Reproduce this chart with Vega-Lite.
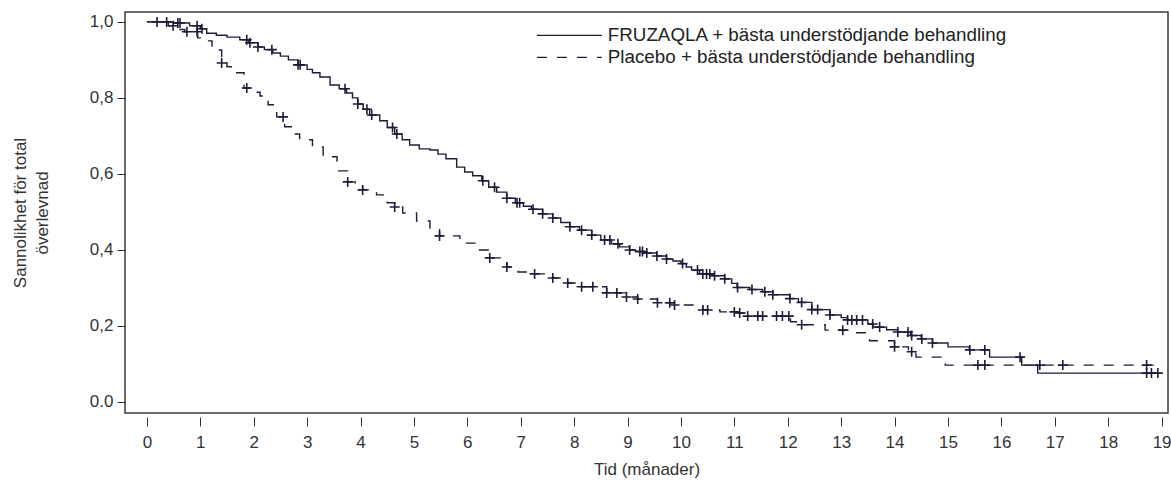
{
  "$schema": "https://vega.github.io/schema/vega-lite/v6.json",
  "width": 1043,
  "height": 401,
  "autosize": {"type": "none"},
  "padding": {"left": 125, "top": 12, "right": 3, "bottom": 69},
  "background": "white",
  "config": {
    "view": {"stroke": "#3a3a3a", "strokeWidth": 1.5},
    "font": "Liberation Sans",
    "axis": {
      "labelFont": "Liberation Sans",
      "titleFont": "Liberation Sans",
      "labelColor": "#333333",
      "titleColor": "#333333",
      "tickColor": "#333333",
      "grid": false,
      "domain": false,
      "labelFontSize": 17,
      "titleFontSize": 17,
      "titleFontWeight": "normal"
    },
    "legend": {
      "orient": "none",
      "legendX": 435,
      "legendY": 14,
      "symbolType": "M-5,0H5",
      "symbolSize": 169,
      "symbolStrokeWidth": 1.3,
      "labelFont": "Liberation Sans",
      "labelFontSize": 18.8,
      "labelColor": "#222222",
      "labelOffset": 29,
      "rowPadding": 2,
      "padding": 0,
      "labelLimit": 0
    }
  },
  "datasets": {
    "curves": [
      {"a":"F","t":0,"S":1.0},{"a":"F","t":0.5,"S":0.997},{"a":"F","t":0.8,"S":0.99},{"a":"F","t":1.0,"S":0.982},{"a":"F","t":1.12,"S":0.97},{"a":"F","t":1.3,"S":0.965},{"a":"F","t":1.5,"S":0.96},{"a":"F","t":1.74,"S":0.953},{"a":"F","t":1.9,"S":0.945},{"a":"F","t":2.08,"S":0.934},{"a":"F","t":2.2,"S":0.927},{"a":"F","t":2.36,"S":0.918},{"a":"F","t":2.5,"S":0.91},{"a":"F","t":2.65,"S":0.9},{"a":"F","t":2.83,"S":0.887},{"a":"F","t":3.0,"S":0.875},{"a":"F","t":3.1,"S":0.866},{"a":"F","t":3.24,"S":0.855},{"a":"F","t":3.43,"S":0.834},{"a":"F","t":3.6,"S":0.824},{"a":"F","t":3.74,"S":0.813},{"a":"F","t":3.85,"S":0.8},{"a":"F","t":3.95,"S":0.784},{"a":"F","t":4.05,"S":0.77},{"a":"F","t":4.17,"S":0.755},{"a":"F","t":4.36,"S":0.74},{"a":"F","t":4.5,"S":0.722},{"a":"F","t":4.64,"S":0.705},{"a":"F","t":4.78,"S":0.69},{"a":"F","t":4.92,"S":0.676},{"a":"F","t":5.1,"S":0.666},{"a":"F","t":5.3,"S":0.663},{"a":"F","t":5.45,"S":0.652},{"a":"F","t":5.6,"S":0.64},{"a":"F","t":5.8,"S":0.618},{"a":"F","t":5.95,"S":0.605},{"a":"F","t":6.1,"S":0.595},{"a":"F","t":6.27,"S":0.582},{"a":"F","t":6.4,"S":0.565},{"a":"F","t":6.55,"S":0.552},{"a":"F","t":6.74,"S":0.536},{"a":"F","t":6.9,"S":0.524},{"a":"F","t":7.05,"S":0.515},{"a":"F","t":7.2,"S":0.507},{"a":"F","t":7.41,"S":0.495},{"a":"F","t":7.6,"S":0.484},{"a":"F","t":7.75,"S":0.472},{"a":"F","t":7.92,"S":0.461},{"a":"F","t":8.1,"S":0.452},{"a":"F","t":8.33,"S":0.439},{"a":"F","t":8.5,"S":0.426},{"a":"F","t":8.7,"S":0.416},{"a":"F","t":8.85,"S":0.408},{"a":"F","t":9.04,"S":0.4},{"a":"F","t":9.15,"S":0.396},{"a":"F","t":9.3,"S":0.392},{"a":"F","t":9.55,"S":0.384},{"a":"F","t":9.73,"S":0.376},{"a":"F","t":9.85,"S":0.371},{"a":"F","t":10.0,"S":0.364},{"a":"F","t":10.1,"S":0.355},{"a":"F","t":10.2,"S":0.347},{"a":"F","t":10.35,"S":0.337},{"a":"F","t":10.6,"S":0.332},{"a":"F","t":10.82,"S":0.324},{"a":"F","t":10.95,"S":0.312},{"a":"F","t":11.05,"S":0.301},{"a":"F","t":11.29,"S":0.296},{"a":"F","t":11.53,"S":0.29},{"a":"F","t":11.72,"S":0.282},{"a":"F","t":12.04,"S":0.272},{"a":"F","t":12.2,"S":0.262},{"a":"F","t":12.45,"S":0.243},{"a":"F","t":12.79,"S":0.229},{"a":"F","t":13.0,"S":0.222},{"a":"F","t":13.12,"S":0.216},{"a":"F","t":13.5,"S":0.205},{"a":"F","t":13.6,"S":0.197},{"a":"F","t":13.85,"S":0.19},{"a":"F","t":14.06,"S":0.184},{"a":"F","t":14.3,"S":0.175},{"a":"F","t":14.5,"S":0.166},{"a":"F","t":14.71,"S":0.155},{"a":"F","t":15.0,"S":0.145},{"a":"F","t":15.4,"S":0.137},{"a":"F","t":15.78,"S":0.118},{"a":"F","t":16.38,"S":0.097},{"a":"F","t":16.68,"S":0.076},{"a":"F","t":18.93,"S":0.076},
      {"a":"P","t":0,"S":1.0},{"a":"P","t":0.4,"S":0.99},{"a":"P","t":0.55,"S":0.98},{"a":"P","t":0.71,"S":0.974},{"a":"P","t":0.95,"S":0.958},{"a":"P","t":1.05,"S":0.95},{"a":"P","t":1.22,"S":0.932},{"a":"P","t":1.3,"S":0.926},{"a":"P","t":1.4,"S":0.892},{"a":"P","t":1.5,"S":0.882},{"a":"P","t":1.62,"S":0.866},{"a":"P","t":1.82,"S":0.826},{"a":"P","t":2.0,"S":0.815},{"a":"P","t":2.12,"S":0.805},{"a":"P","t":2.27,"S":0.782},{"a":"P","t":2.43,"S":0.75},{"a":"P","t":2.58,"S":0.724},{"a":"P","t":2.75,"S":0.705},{"a":"P","t":2.86,"S":0.69},{"a":"P","t":3.1,"S":0.671},{"a":"P","t":3.3,"S":0.645},{"a":"P","t":3.56,"S":0.608},{"a":"P","t":3.76,"S":0.579},{"a":"P","t":3.9,"S":0.572},{"a":"P","t":4.04,"S":0.558},{"a":"P","t":4.3,"S":0.545},{"a":"P","t":4.5,"S":0.524},{"a":"P","t":4.64,"S":0.513},{"a":"P","t":4.79,"S":0.497},{"a":"P","t":5.05,"S":0.476},{"a":"P","t":5.3,"S":0.453},{"a":"P","t":5.48,"S":0.437},{"a":"P","t":5.86,"S":0.418},{"a":"P","t":6.18,"S":0.4},{"a":"P","t":6.42,"S":0.379},{"a":"P","t":6.74,"S":0.355},{"a":"P","t":6.95,"S":0.342},{"a":"P","t":7.26,"S":0.337},{"a":"P","t":7.6,"S":0.326},{"a":"P","t":7.88,"S":0.313},{"a":"P","t":8.14,"S":0.303},{"a":"P","t":8.61,"S":0.287},{"a":"P","t":8.98,"S":0.276},{"a":"P","t":9.19,"S":0.271},{"a":"P","t":9.56,"S":0.261},{"a":"P","t":9.88,"S":0.255},{"a":"P","t":10.41,"S":0.242},{"a":"P","t":10.73,"S":0.237},{"a":"P","t":11.06,"S":0.234},{"a":"P","t":11.2,"S":0.226},{"a":"P","t":12.05,"S":0.211},{"a":"P","t":12.21,"S":0.203},{"a":"P","t":12.7,"S":0.189},{"a":"P","t":13.2,"S":0.182},{"a":"P","t":13.48,"S":0.171},{"a":"P","t":13.53,"S":0.161},{"a":"P","t":14.0,"S":0.145},{"a":"P","t":14.26,"S":0.132},{"a":"P","t":14.4,"S":0.118},{"a":"P","t":14.95,"S":0.097},{"a":"P","t":18.93,"S":0.097}
    ],
    "censors": [
      {"a":"F","t":0.19,"S":1.0},{"a":"F","t":0.37,"S":1.0},{"a":"F","t":0.58,"S":0.997},{"a":"F","t":0.62,"S":0.997},{"a":"F","t":0.94,"S":0.99},{"a":"F","t":1.03,"S":0.982},{"a":"F","t":1.87,"S":0.953},{"a":"F","t":1.93,"S":0.945},{"a":"F","t":2.08,"S":0.934},{"a":"F","t":2.34,"S":0.927},{"a":"F","t":2.83,"S":0.887},{"a":"F","t":2.87,"S":0.887},{"a":"F","t":3.71,"S":0.824},{"a":"F","t":3.95,"S":0.784},{"a":"F","t":4.12,"S":0.77},{"a":"F","t":4.21,"S":0.755},{"a":"F","t":4.6,"S":0.722},{"a":"F","t":4.68,"S":0.705},{"a":"F","t":6.29,"S":0.582},{"a":"F","t":6.51,"S":0.565},{"a":"F","t":6.74,"S":0.536},{"a":"F","t":6.93,"S":0.524},{"a":"F","t":6.98,"S":0.524},{"a":"F","t":7.23,"S":0.507},{"a":"F","t":7.41,"S":0.495},{"a":"F","t":7.6,"S":0.484},{"a":"F","t":7.92,"S":0.461},{"a":"F","t":8.14,"S":0.452},{"a":"F","t":8.33,"S":0.439},{"a":"F","t":8.57,"S":0.426},{"a":"F","t":8.67,"S":0.426},{"a":"F","t":8.82,"S":0.416},{"a":"F","t":9.04,"S":0.4},{"a":"F","t":9.23,"S":0.396},{"a":"F","t":9.28,"S":0.396},{"a":"F","t":9.36,"S":0.392},{"a":"F","t":9.55,"S":0.384},{"a":"F","t":9.73,"S":0.376},{"a":"F","t":10.03,"S":0.364},{"a":"F","t":10.31,"S":0.347},{"a":"F","t":10.41,"S":0.337},{"a":"F","t":10.48,"S":0.337},{"a":"F","t":10.54,"S":0.337},{"a":"F","t":10.63,"S":0.332},{"a":"F","t":10.82,"S":0.324},{"a":"F","t":11.06,"S":0.301},{"a":"F","t":11.33,"S":0.296},{"a":"F","t":11.57,"S":0.29},{"a":"F","t":11.72,"S":0.282},{"a":"F","t":12.04,"S":0.272},{"a":"F","t":12.26,"S":0.262},{"a":"F","t":12.45,"S":0.243},{"a":"F","t":12.56,"S":0.243},{"a":"F","t":12.79,"S":0.229},{"a":"F","t":13.12,"S":0.216},{"a":"F","t":13.2,"S":0.216},{"a":"F","t":13.29,"S":0.216},{"a":"F","t":13.4,"S":0.216},{"a":"F","t":13.59,"S":0.205},{"a":"F","t":13.72,"S":0.197},{"a":"F","t":14.06,"S":0.184},{"a":"F","t":14.25,"S":0.184},{"a":"F","t":14.32,"S":0.175},{"a":"F","t":14.51,"S":0.166},{"a":"F","t":14.71,"S":0.155},{"a":"F","t":15.41,"S":0.137},{"a":"F","t":15.69,"S":0.137},{"a":"F","t":16.35,"S":0.118},{"a":"F","t":18.72,"S":0.076},{"a":"F","t":18.81,"S":0.076},{"a":"F","t":18.93,"S":0.076},
      {"a":"P","t":0.49,"S":0.99},{"a":"P","t":0.75,"S":0.974},{"a":"P","t":0.94,"S":0.974},{"a":"P","t":1.4,"S":0.892},{"a":"P","t":1.87,"S":0.826},{"a":"P","t":2.55,"S":0.75},{"a":"P","t":3.76,"S":0.579},{"a":"P","t":4.04,"S":0.558},{"a":"P","t":4.64,"S":0.513},{"a":"P","t":5.48,"S":0.437},{"a":"P","t":6.42,"S":0.379},{"a":"P","t":6.74,"S":0.355},{"a":"P","t":7.26,"S":0.337},{"a":"P","t":7.6,"S":0.326},{"a":"P","t":7.88,"S":0.313},{"a":"P","t":8.14,"S":0.303},{"a":"P","t":8.35,"S":0.303},{"a":"P","t":8.61,"S":0.287},{"a":"P","t":8.8,"S":0.287},{"a":"P","t":8.98,"S":0.276},{"a":"P","t":9.19,"S":0.271},{"a":"P","t":9.56,"S":0.261},{"a":"P","t":9.79,"S":0.261},{"a":"P","t":9.88,"S":0.255},{"a":"P","t":10.41,"S":0.242},{"a":"P","t":10.5,"S":0.242},{"a":"P","t":11.0,"S":0.237},{"a":"P","t":11.1,"S":0.234},{"a":"P","t":11.25,"S":0.226},{"a":"P","t":11.44,"S":0.226},{"a":"P","t":11.53,"S":0.226},{"a":"P","t":11.79,"S":0.226},{"a":"P","t":11.9,"S":0.226},{"a":"P","t":12.02,"S":0.226},{"a":"P","t":12.26,"S":0.203},{"a":"P","t":13.03,"S":0.189},{"a":"P","t":14.0,"S":0.145},{"a":"P","t":14.32,"S":0.132},{"a":"P","t":15.56,"S":0.097},{"a":"P","t":15.69,"S":0.097},{"a":"P","t":16.72,"S":0.097},{"a":"P","t":17.15,"S":0.097},{"a":"P","t":18.72,"S":0.097}
    ]
  },
  "layer": [
    {
      "data": {"name": "curves"},
      "mark": {"type": "line", "interpolate": "step-after", "color": "#1c1c38", "strokeWidth": 1.4},
      "encoding": {
        "x": {
          "field": "t", "type": "quantitative",
          "scale": {"domain": [-0.41, 19.12], "nice": false, "zero": false},
          "axis": {
            "values": [0,1,2,3,4,5,6,7,8,9,10,11,12,13,14,15,16,17,18,19],
            "title": "Tid (månader)",
            "offset": 4, "tickSize": 9, "labelPadding": 8, "titlePadding": 11, "labelFlush": false
          }
        },
        "y": {
          "field": "S", "type": "quantitative",
          "scale": {"domain": [-0.029, 1.026], "nice": false, "zero": false},
          "axis": {
            "values": [0, 0.2, 0.4, 0.6, 0.8, 1],
            "labelExpr": "datum.value == 0 ? '0.0' : replace(format(datum.value, '.1f'), '.', ',')",
            "tickSize": 8, "labelPadding": 4,
            "title": ["Sannolikhet för total", "överlevnad"],
            "titlePadding": 38, "titleLineHeight": 22
          }
        },
        "strokeDash": {
          "field": "a", "type": "nominal",
          "scale": {"domain": ["F", "P"], "range": [[1, 0], [10, 10]]},
          "legend": {
            "title": null,
            "labelExpr": "datum.label == 'F' ? 'FRUZAQLA + bästa understödjande behandling' : 'Placebo + bästa understödjande behandling'"
          }
        }
      }
    },
    {
      "mark": {"type": "rule", "color": "#9a9a9a", "strokeDash": [4, 3], "strokeWidth": 1},
      "encoding": {"y": {"datum": 0.5, "type": "quantitative"}}
    },
    {
      "data": {"name": "censors"},
      "mark": {"type": "point", "shape": "M-1,0H1M0,-1V1", "size": 100, "filled": false, "stroke": "#1c1c38", "strokeWidth": 1.6, "opacity": 1},
      "encoding": {
        "x": {"field": "t", "type": "quantitative"},
        "y": {"field": "S", "type": "quantitative"}
      }
    }
  ]
}
